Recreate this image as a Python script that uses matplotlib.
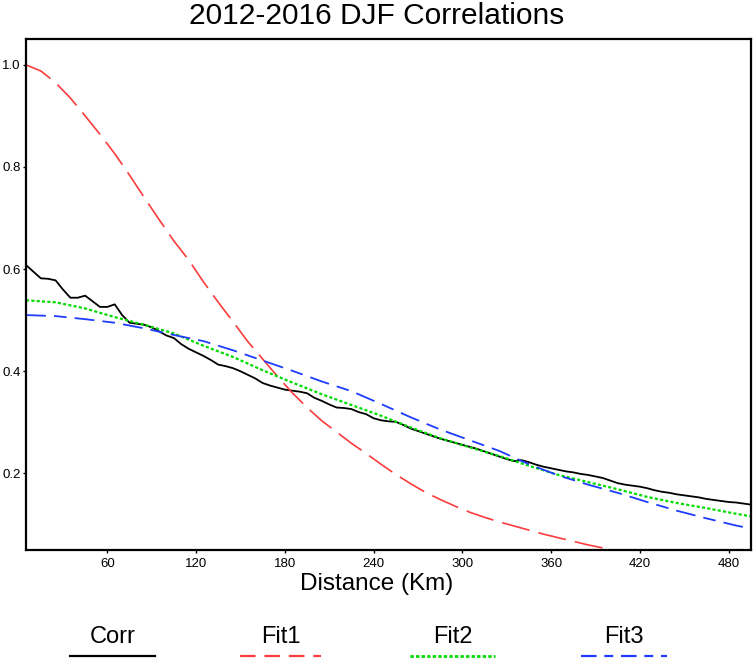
import matplotlib
matplotlib.use("Agg")
import matplotlib.pyplot as plt
from matplotlib.lines import Line2D

plt.rcParams["font.family"] = ["Liberation Sans", "DejaVu Sans"]

# distance (km) for the sample correlations, every 5 km
corr_km = list(range(5, 500, 5))
corr = [0.608, 0.595, 0.582, 0.581, 0.578, 0.560, 0.544, 0.544, 0.548, 0.537,
        0.526, 0.526, 0.531, 0.510, 0.495, 0.493, 0.491, 0.486, 0.478, 0.470,
        0.465, 0.453, 0.444, 0.437, 0.430, 0.422, 0.413, 0.410, 0.406, 0.400,
        0.393, 0.386, 0.377, 0.372, 0.368, 0.364, 0.362, 0.360, 0.357, 0.348,
        0.342, 0.335, 0.329, 0.328, 0.326, 0.320, 0.316, 0.308, 0.304, 0.302,
        0.301, 0.295, 0.288, 0.283, 0.278, 0.273, 0.268, 0.264, 0.260, 0.256,
        0.252, 0.248, 0.243, 0.238, 0.233, 0.228, 0.224, 0.226, 0.222, 0.217,
        0.213, 0.210, 0.207, 0.204, 0.202, 0.199, 0.197, 0.194, 0.191, 0.186,
        0.181, 0.178, 0.176, 0.174, 0.171, 0.167, 0.164, 0.162, 0.159, 0.157,
        0.155, 0.153, 0.150, 0.148, 0.146, 0.144, 0.143, 0.141, 0.139]

fit1_km = [5, 15, 25, 35, 45, 55, 65, 75, 85, 95, 105, 115, 125, 135, 145, 155,
           165, 175, 185, 195, 205, 215, 225, 235, 245, 255, 265, 275, 285, 295,
           305, 315, 325, 335, 345, 355, 365, 375, 385, 395, 405]
fit1 = [1.000, 0.988, 0.965, 0.935, 0.900, 0.864, 0.826, 0.784, 0.740, 0.697,
        0.655, 0.618, 0.575, 0.535, 0.497, 0.458, 0.424, 0.390, 0.358, 0.329,
        0.303, 0.281, 0.259, 0.239, 0.218, 0.198, 0.180, 0.163, 0.149, 0.136,
        0.124, 0.114, 0.105, 0.097, 0.089, 0.081, 0.074, 0.067, 0.060, 0.054,
        0.048]

fit_km = [5, 25, 45, 65, 85, 105, 125, 145, 165, 185, 205, 225, 245, 265, 285,
          305, 325, 345, 365, 385, 405, 425, 445, 465, 485, 495]
fit2 = [0.539, 0.535, 0.523, 0.506, 0.491, 0.474, 0.450, 0.428, 0.402, 0.378,
        0.355, 0.334, 0.313, 0.290, 0.269, 0.251, 0.234, 0.215, 0.197, 0.183,
        0.169, 0.154, 0.142, 0.132, 0.121, 0.116]
fit3 = [0.510, 0.508, 0.502, 0.495, 0.484, 0.471, 0.459, 0.441, 0.421, 0.401,
        0.380, 0.361, 0.336, 0.310, 0.286, 0.265, 0.244, 0.218, 0.196, 0.178,
        0.162, 0.144, 0.127, 0.112, 0.098, 0.092]

xticks = [60, 120, 180, 240, 300, 360, 420, 480]
yticks = [0.2, 0.4, 0.6, 0.8, 1.0]

c_red = "#fa3c3c"
c_green = "#00dc00"
c_blue = "#1e3cff"

fig = plt.figure(figsize=(7.54, 6.59), dpi=100)
ax = fig.add_axes([26 / 754, 1 - 550 / 659, 724.7 / 754, 510.7 / 659])

ax.plot(corr_km, corr, color="black", lw=1.3)
ax.plot(fit1_km, fit1, color=c_red, lw=1.2, dashes=(17, 5.5))
ax.plot(fit_km, fit2, color=c_green, lw=1.6, dashes=(1.4, 1.0))
ax.plot(fit_km, fit3, color=c_blue, lw=1.3, dashes=(11, 4.5, 7, 4.5))

ax.set_xlim(5, 495)
ax.set_ylim(0.05, 1.05)
ax.set_xticks(xticks)
ax.set_xticklabels([str(t) for t in xticks])
ax.set_yticks(yticks)
ax.set_yticklabels(["%.1f" % t for t in yticks])
ax.tick_params(direction="out", length=2.5, width=1, labelsize=9.5)
ax.tick_params(axis="y", pad=1.5)
ax.tick_params(axis="x", pad=3)
for s in ax.spines.values():
    s.set_linewidth(1.6)

fig.text(0.5, 1 - 16 / 659, "2012-2016 DJF Correlations", ha="center", va="center",
         fontsize=21.5)
fig.text(0.5, 1 - 584 / 659, "Distance (Km)", ha="center", va="center",
         fontsize=17.5)

# legend row under the axis
leg = [("Corr", "black", None, 1.6, 70, 155),
       ("Fit1", c_red, (7, 4), 1.6, 240, 321),
       ("Fit2", c_green, (1.2, 0.8), 2.0, 410, 495),
       ("Fit3", c_blue, (7, 3.5, 4, 3.5), 1.6, 581, 667)]
for name, col, dash, lw, x0, x1 in leg:
    ln = Line2D([x0 / 754, x1 / 754], [1 - 656 / 659] * 2, color=col, lw=lw,
                transform=fig.transFigure)
    if dash:
        ln.set_dashes(dash)
    fig.add_artist(ln)
    fig.text((x0 + x1) / 2 / 754, 1 - 637 / 659, name, ha="center", va="center",
             fontsize=17)

fig.savefig("out.png", dpi=100)
